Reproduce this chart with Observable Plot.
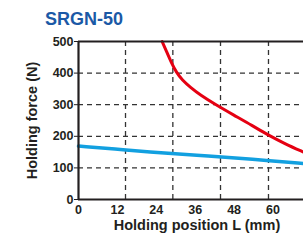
<!DOCTYPE html>
<html>
<head>
<meta charset="utf-8">
<script src="https://cdn.jsdelivr.net/npm/d3@7"></script>
<script src="https://cdn.jsdelivr.net/npm/@observablehq/plot@0.6"></script>
<style>
  html, body { margin: 0; padding: 0; background: #fff; }
  #title { box-sizing: border-box; height: 32px; padding: 10px 0 0 45px; font: bold 18px "Liberation Sans", Arial, sans-serif; line-height: 1; color: #1b59a6; }
  svg { display: block; }
</style>
</head>
<body>
<div id="title">SRGN-50</div>
<div id="chart"></div>
<script>
const titleText = "SRGN-50";
const xLabel = "Holding position L (mm)";
const yLabel = "Holding force (N)";
const xTicks = [0, 12, 24, 36, 48, 60];
const yTicks = [0, 100, 200, 300, 400, 500];
const gridX = [14.5, 29.1, 43.8, 58.6];
const gridY = [100, 200, 300, 400];
const redL = [25.8, 27.3, 28.7, 30.2, 32.0, 34.5, 37.5, 42.3, 47.9, 53.6, 58.4, 63.8, 69.4];
const redF = [500, 465, 432, 402, 378, 355, 331, 300, 267, 234, 204, 176, 150];
const blueL = [0, 14.3, 25.2, 37.5, 43.8, 58.7, 69.4];
const blueF = [169, 157, 148, 139, 135, 123, 114];

document.getElementById("title").textContent = titleText;
const red = redL.map((l, i) => ({l, f: redF[i]}));
const blue = blueL.map((l, i) => ({l, f: blueF[i]}));
const ink = "#231f20";

const chart = Plot.plot({
  width: 303,
  height: 209,
  marginLeft: 78,
  marginRight: 0,
  marginTop: 9,
  marginBottom: 42,
  x: {domain: [0, 69.4]},
  y: {domain: [0, 500]},
  style: {fontFamily: "Liberation Sans, Arial, sans-serif", fontWeight: "bold", color: ink, background: "#fff", overflow: "visible"},
  marks: [
    Plot.ruleY(gridY, {stroke: "#333", strokeWidth: 1.3, strokeDasharray: "5,4"}),
    Plot.ruleX(gridX, {stroke: "#333", strokeWidth: 1.3, strokeDasharray: "5,4"}),
    Plot.line(blue, {x: "l", y: "f", stroke: "#12a0e0", strokeWidth: 3.5, curve: "basis"}),
    Plot.line(red, {x: "l", y: "f", stroke: "#e50012", strokeWidth: 3, curve: "basis"}),
    Plot.ruleY([0], {stroke: ink, strokeWidth: 2.2}),
    Plot.ruleY([500], {stroke: ink, strokeWidth: 2}),
    Plot.ruleX([0], {stroke: ink, strokeWidth: 2.2}),
    Plot.axisY(yTicks, {tickSize: 4, tickPadding: 1, fontSize: 12.5, label: null, stroke: ink}),
    Plot.axisX(xTicks, {tickSize: 0, tickPadding: 6, fontSize: 12.5, label: null}),
    Plot.text([yLabel], {frameAnchor: "left", textAnchor: "middle", lineAnchor: "middle", rotate: -90, dx: -46, fontSize: 14.5, fontWeight: "bold", fill: ink}),
    Plot.text([xLabel], {frameAnchor: "bottom", dx: 6, dy: 30, fontSize: 14.5, fontWeight: "bold", fill: ink})
  ]
});
document.getElementById("chart").appendChild(chart);
</script>
</body>
</html>
